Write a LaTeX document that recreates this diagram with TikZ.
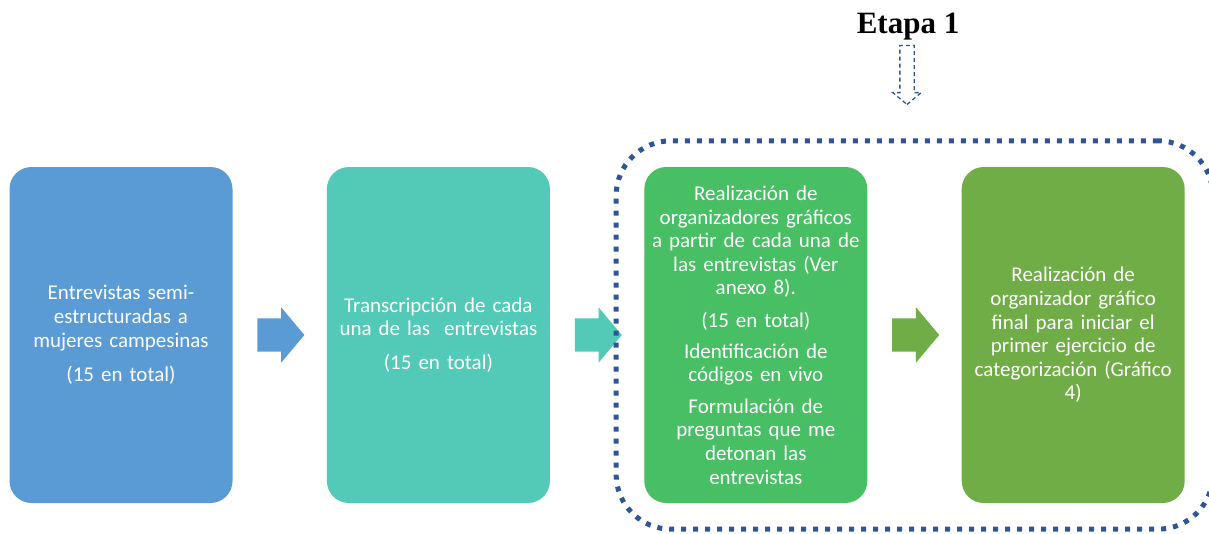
\documentclass[tikz,border=0pt]{standalone}
\usepackage{fontspec}
\setmainfont{Carlito}
\newfontfamily\etapafont{Liberation Serif}
\usetikzlibrary{positioning}
\usetikzlibrary{shapes.arrows}
\usetikzlibrary{fit}
\usetikzlibrary{calc}
\usepackage{xcolor}

\definecolor{boxblue}{HTML}{5B9BD5}
\definecolor{boxteal}{HTML}{53CAB7}
\definecolor{boxgreen}{HTML}{48BF64}
\definecolor{boxolive}{HTML}{70AD47}
\definecolor{framenavy}{HTML}{2F5597}

\begin{document}
\begin{tikzpicture}[
    x=1pt, y=1pt,
    node distance=94pt,  % gap between the boxes
    stagebox/.style={
        rectangle,
        fill=#1,
        minimum width=223pt,
        minimum height=336pt,
        text width=221pt,
        align=center,
        rounded corners=22pt,
        inner sep=0pt,
        text=white,
        font=\fontsize{21}{23.6}\selectfont
    },
    blockarrow/.style={
        single arrow,
        fill=#1,
        anchor=tail,
        inner xsep=0pt,
        inner ysep=16.5pt,  % half of the shaft
        minimum height=47pt,
        single arrow head extend=11pt,
        single arrow tip angle=100
    },
    etapaframe/.style={
        draw=framenavy,
        line width=5pt,
        dash pattern=on 5pt off 7pt,
        rounded corners=55pt,
        inner xsep=28pt,
        inner ysep=26pt
    },
    hollowarrow/.style={
        single arrow,
        rotate=-90,
        draw=framenavy,
        line width=1.3pt,
        dash pattern=on 4pt off 3pt,
        inner xsep=0pt,
        inner ysep=6.5pt,
        minimum height=59pt,
        single arrow head extend=7pt,
        single arrow tip angle=100
    }
]

\path[use as bounding box] (0,0) rectangle (1209,-533);

% the four stages
\node[stagebox=boxblue] (stage1) at (121,-335)
    {Entrevistas semi-\\estructuradas a\\mujeres campesinas\\[11pt](15 en total)};
\node[stagebox=boxteal, right=of stage1] (stage2)
    {Transcripción de cada\\una de las\ \ entrevistas\\[10pt](15 en total)};
\node[stagebox=boxgreen, right=of stage2] (stage3)
    {Realización de\\organizadores gráficos\\a partir de cada una de\\las entrevistas (Ver\\anexo 8).\\[9pt]
     (15 en total)\\[7pt]
     Identificación de\\códigos en vivo\\[8pt]
     Formulación de\\preguntas que me\\detonan las\\entrevistas};
\node[stagebox=boxolive, right=of stage3] (stage4)
    {Realización de\\organizador gráfico\\final para iniciar el\\primer ejercicio de\\categorización (Gráfico\\4)};

% block arrows between the stages
\node[blockarrow=boxblue] (arrow1) at ($(stage1.east)+(24.5,0)$) {};
\node[blockarrow=boxteal] (arrow2) at ($(stage2.east)+(24.5,0)$) {};
\node[blockarrow=boxolive] (arrow3) at ($(stage3.east)+(24.5,0)$) {};

% frame of the first stage
\node[etapaframe, fit=(stage3)(stage4)] (etapa) {};

% title and pointer
\node[font=\etapafont\bfseries\fontsize{31}{36}\selectfont] (title) at (908,-27) {Etapa 1};
\node[hollowarrow] (pointer) at (907,-72) {};

\end{tikzpicture}
\end{document}
